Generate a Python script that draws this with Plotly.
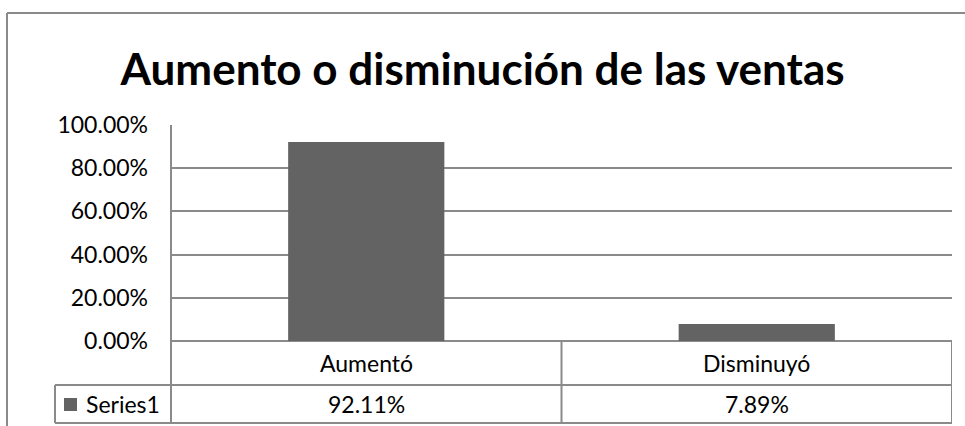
import plotly.graph_objects as go

title = "Aumento o disminución de las ventas"
categories = ["Aumentó", "Disminuyó"]
series_name = "Series1"
values = [0.9211, 0.0789]
y_ticks = [0, 0.2, 0.4, 0.6, 0.8, 1.0]

W, H = 965, 426
BAR = "#636363"
GRID = "#8a8a8a"
FONT = "Lato"

def px(x):
    return x / W

def py(y):
    return 1 - y / H

fig = go.Figure()
fig.add_trace(go.Bar(
    x=categories, y=values, name=series_name,
    marker=dict(color=BAR, line=dict(width=0)),
    width=0.4, showlegend=False,
))

plot_left, plot_right = 171, 952
plot_top, plot_zero = 125, 341
row_mid, row_bot = 385, 423

shapes = []
line = dict(color=GRID, width=2)
# outer chart border (top and left)
shapes.append(dict(type="line", xref="paper", yref="paper", x0=px(7), x1=px(965), y0=py(13), y1=py(13), line=line))
shapes.append(dict(type="line", xref="paper", yref="paper", x0=px(7), x1=px(7), y0=py(13), y1=py(426), line=line))
# plot-area left edge down through table
shapes.append(dict(type="line", xref="paper", yref="paper", x0=px(plot_left), x1=px(plot_left), y0=py(plot_top), y1=py(row_bot), line=line))
# table: category separators
for b in [0.5, 1.5]:
    shapes.append(dict(type="line", xref="x", yref="paper", x0=b, x1=b, y0=py(plot_zero), y1=py(row_bot), line=line))
# table horizontal lines
shapes.append(dict(type="line", xref="paper", yref="paper", x0=px(55), x1=px(plot_right), y0=py(row_mid), y1=py(row_mid), line=line))
shapes.append(dict(type="line", xref="paper", yref="paper", x0=px(55), x1=px(plot_right), y0=py(row_bot), y1=py(row_bot), line=line))
shapes.append(dict(type="line", xref="paper", yref="paper", x0=px(55), x1=px(55), y0=py(row_mid), y1=py(row_bot), line=line))
# legend key in the data table
shapes.append(dict(type="rect", xref="paper", yref="paper", x0=px(64), x1=px(77), y0=py(398), y1=py(411),
                   fillcolor=BAR, line=dict(width=0)))

cell_font = dict(family=FONT, size=23, color="#000")
annotations = [dict(x=px(84), xref="paper", y=py((row_mid + row_bot) / 2), yref="paper",
                    text=series_name, showarrow=False, font=cell_font, xanchor="left", yanchor="middle")]
for c, v in zip(categories, values):
    annotations.append(dict(x=c, xref="x", y=py((plot_zero + row_mid) / 2), yref="paper",
                            text=c, showarrow=False, font=cell_font, xanchor="center", yanchor="middle"))
    annotations.append(dict(x=c, xref="x", y=py((row_mid + row_bot) / 2), yref="paper",
                            text=f"{v:.2%}", showarrow=False, font=cell_font, xanchor="center", yanchor="middle"))

fig.update_layout(
    width=W, height=H, autosize=False,
    margin=dict(l=0, r=0, t=0, b=0, pad=0),
    paper_bgcolor="white", plot_bgcolor="white",
    title=dict(text=f"<b>{title}</b>", x=0.5, xanchor="center", y=py(70), yanchor="middle",
               font=dict(family=FONT, size=44, color="#000")),
    xaxis=dict(domain=[px(plot_left), px(plot_right)], range=[-0.5, 1.5], type="category",
               showticklabels=False, showgrid=False, zeroline=False, showline=False,
               fixedrange=True, automargin=False),
    yaxis=dict(domain=[py(plot_zero), py(plot_top)], range=[0, 1], tickvals=y_ticks, tickformat=".2%",
               showgrid=True, gridcolor=GRID, gridwidth=2, zeroline=True, zerolinecolor=GRID, zerolinewidth=2,
               showline=False, ticks="", ticklabelstandoff=22, automargin=False,
               tickfont=dict(family=FONT, size=23, color="#000"), fixedrange=True),
    shapes=shapes, annotations=annotations, showlegend=False,
)

fig.write_html("out.html", config={"displayModeBar": False},
               post_script="document.body.style.margin='0';document.body.style.overflow='hidden';")
